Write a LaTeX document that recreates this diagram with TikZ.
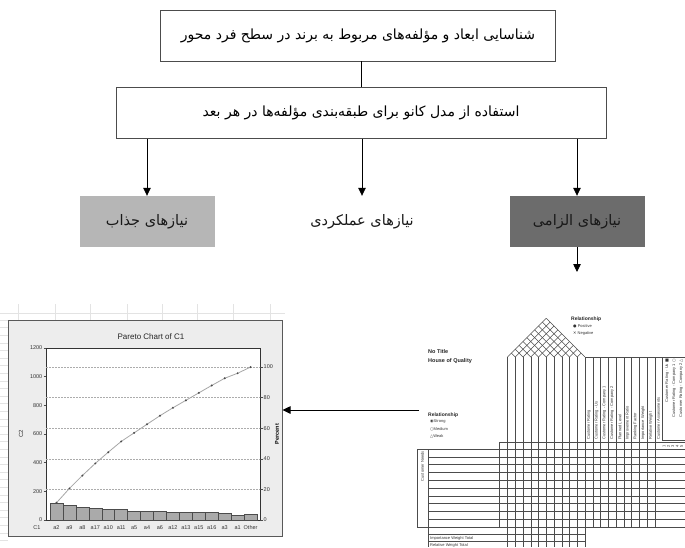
\documentclass[tikz,border=0pt]{standalone}
\usepackage{fontspec}
\setmainfont{Liberation Sans}
\newfontfamily\fa[Script=Arabic]{DejaVu Sans}
\newfontfamily\sym{DejaVu Sans}
\TeXXeTstate=1
\usetikzlibrary{arrows.meta}
\definecolor{lightbox}{HTML}{B6B6B6}
\definecolor{darkbox}{HTML}{6C6C6C}
\definecolor{framefill}{HTML}{EDEDED}
\definecolor{barfill}{HTML}{AAAAAA}
\begin{document}
\begin{tikzpicture}[x=1pt,y=-1pt,
  flowbox/.style={draw=black!70, line width=0.7pt, fill=white, minimum height=51pt, inner sep=0pt},
  need/.style={minimum width=135pt, minimum height=51pt, inner sep=0pt, text=black!90},
  fatext/.style={font=\fa\fontsize{14}{16}\selectfont},
  fabig/.style={font=\fa\fontsize{14.5}{16}\selectfont},
  conn/.style={line width=0.8pt, black},
  arr/.style={line width=0.8pt, black, -{Triangle[length=8pt,width=7.5pt]}},
  tick/.style={font=\fontsize{5.5}{6.5}\selectfont, inner sep=0.5pt, text=black!80},
  hoq/.style={draw=black!70, line width=0.45pt},
  tiny/.style={font=\fontsize{4}{4.5}\selectfont, inner sep=0pt, text=black!80},
  tinyb/.style={font=\bfseries\fontsize{5}{5.5}\selectfont, inner sep=0pt, text=black!85}
]
\useasboundingbox (0,0) rectangle (685,547);

% ---------------- flow chart ----------------
\node[flowbox, minimum width=395pt, fatext] (box1) at (358,35.5)
  {\beginR شناسایی ابعاد و مؤلفه‌های مربوط به برند در سطح فرد محور\endR};
\node[flowbox, minimum width=490pt, fatext] (box2) at (361,113)
  {\beginR استفاده از مدل کانو برای طبقه‌بندی مؤلفه‌ها در هر بعد\endR};
\node[need, fill=lightbox, fabig] (n1) at (147,221.5) {\beginR نیازهای جذاب\endR};
\node[need, fabig] (n2) at (362,221.5) {\beginR نیازهای عملکردی\endR};
\node[need, fill=darkbox, fabig] (n3) at (577,221.5) {\beginR نیازهای الزامی\endR};
\coordinate (n3end) at (577,272);

\draw[conn] (box1.south -| box2.north) -- (box2.north);
\draw[arr] (box2.south -| n1.north) -- (n1.north);
\draw[arr] (box2.south -| n2.north) -- (n2.north);
\draw[arr] (box2.south -| n3.north) -- (n3.north);
\draw[arr] (n3.south) -- (n3end);

% ---------------- Pareto chart ----------------
% spreadsheet grid behind
\foreach \gx in {18,55,90,127,162,197,233,270}
  \draw[gray!22, line width=0.4pt] (\gx,304) -- (\gx,322);
\draw[gray!22, line width=0.4pt] (0,313) -- (285,313);
\foreach \gy in {320,327.6,...,545}
  \draw[gray!22, line width=0.4pt] (0,\gy) -- (8,\gy);

\node[draw=black!65, line width=1pt, fill=framefill, minimum width=274pt, minimum height=216pt, inner sep=0pt] (chart) at (145,428) {};
\node[draw=black!80, line width=0.5pt, fill=white, minimum width=214pt, minimum height=172pt, inner sep=0pt] (plot) at (153,434) {};
\node[font=\fontsize{8}{9}\selectfont, text=black!85] (title) at (151,337) {Pareto Chart of C1};

\foreach \p in {20,40,60,80,100}
  \draw[gray!65, line width=0.4pt, dash pattern=on 1.5pt off 1.5pt] (46,{520-\p*1.5294}) -- (260,{520-\p*1.5294});

\foreach \v in {0,200,400,600,800,1000,1200} {
  \draw[black!70, line width=0.4pt] (43.5,{520-\v*0.14333}) -- (46,{520-\v*0.14333});
  \node[tick, anchor=east] (yl\v) at (43,{520-\v*0.14333}) {\v};
}
\foreach \p in {0,20,40,60,80,100} {
  \draw[black!70, line width=0.4pt] (260,{520-\p*1.5294}) -- (262.5,{520-\p*1.5294});
  \node[tick, anchor=west] (yr\p) at (263,{520-\p*1.5294}) {\p};
}
\node[tick, rotate=90, font=\fontsize{6}{7}\selectfont] (c2) at (21,434) {C2};
\node[tick, rotate=90, font=\bfseries\fontsize{5.5}{6}\selectfont, text=black] (pct) at (277,434) {Percent};

\foreach \v [count=\i] in {120,100,90,85,78,75,60,60,60,55,52,52,52,50,35,43}
  \draw[fill=barfill, draw=black!70, line width=0.5pt] ({50+12.94*(\i-1)},520) rectangle ({50+12.94*\i},{520-\v*0.14333});

\foreach \c [count=\i] in {120,220,310,395,473,548,608,668,728,783,835,887,939,989,1024,1067}
  \coordinate (p\i) at ({50+12.94*(\i-0.5)},{520-\c*0.14333});
\draw[gray!70, line width=0.8pt] (p1) \foreach \i in {2,...,16} { -- (p\i) };
\foreach \i in {1,...,16}
  \fill[black!70] (p\i) circle (1.1pt);

\node[tick] (cl) at (37,528) {C1};
\foreach \lab [count=\i] in {a2,a9,a8,a17,a10,a11,a5,a4,a6,a12,a13,a15,a16,a3,a1,Other}
  \node[tick] (xl\i) at ({50+12.94*(\i-0.5)},528) {\lab};

% ---------------- House of Quality ----------------
\node[tinyb, anchor=west, align=left, font=\bfseries\fontsize{5.5}{8.5}\selectfont] (hqt) at (428,356.5) {No Title\\House of Quality};

\node[tinyb, anchor=west] (rel1) at (571,319) {Relationship};
\node[tiny, anchor=west] (pos) at (573,326) {{\sym ●} Positive};
\node[tiny, anchor=west] (neg) at (573,333) {{\sym ✕} Negative};

\node[tinyb, anchor=west] (rel2) at (428,415) {Relationship};
\node[tiny, anchor=west] (st) at (430,422) {{\sym ◉}Strong};
\node[tiny, anchor=west] (me) at (430,429) {{\sym ○}Medium};
\node[tiny, anchor=west] (wk) at (430,436) {{\sym △}Weak};

% roof and columns
\foreach \i in {0,...,10} {
  \pgfmathsetmacro\xi{507.5+7.75*\i}
  \pgfmathsetmacro\rr{(10-\i)*7.75/2}
  \pgfmathsetmacro\ll{\i*7.75/2}
  \draw[hoq] (\xi,357) -- ++(\rr,-\rr);
  \draw[hoq] (\xi,357) -- ++(-\ll,-\ll);
  \draw[hoq] (\xi,357) -- (\xi,547);
}
% right group
\draw[hoq] (585,357) -- (685,357);
\foreach \j in {0,...,9}
  \draw[hoq] ({585+7.75*\j},357) -- ({585+7.75*\j},527);
\draw[hoq] (662,357) -- (662,440) -- (685,440);
\foreach \t [count=\j] in {Customer Rating,Customer Rating - Us,Customer Rating - Company 1,Customer Rating - Company 2,Planned Level,Improvement Ratio,Ranking Factor,Importance Weight,Relative Weight}
  \node[tiny, rotate=90, anchor=west] (ch\j) at ({585+7.75*(\j-0.5)},440) {\t};
\node[tiny, rotate=90, anchor=west] (ca) at (658.5,440) {Customer Assessments};
\node[tiny, rotate=90, anchor=east] (lg1) at (667,359) {Customer Rating - Us {\sym ■}};
\node[tiny, rotate=90, anchor=east] (lg2) at (674,359) {Customer Rating - Company 1 {\sym ○}};
\node[tiny, rotate=90, anchor=east] (lg3) at (681,359) {Customer Rating - Company 2 {\sym △}};
\foreach \d [count=\k] in {1,2,3,4,5}
  \node[tiny, rotate=90] (sc\k) at ({664+4.4*(\k-1)},446) {\d};

% body
\draw[hoq] (499,442) -- (685,442);
\draw[hoq] (417,449) -- (685,449);
\draw[hoq] (417,527) -- (685,527);
\draw[hoq] (417,449) -- (417,527);
\draw[hoq] (428,449) -- (428,547);
\draw[hoq] (499,442) -- (499,527);
\foreach \k in {1,...,9}
  \draw[hoq] (428,{449+7.8*\k}) -- (685,{449+7.8*\k});
\draw[hoq] (428,534.5) -- (585,534.5);
\draw[hoq] (428,541.5) -- (585,541.5);
\node[tiny, rotate=90, anchor=east] (cn) at (422.5,451) {Customer Needs};
\node[tiny, anchor=west] (iwt) at (430,538) {Importance Weight Total};
\node[tiny, anchor=west] (rwt) at (430,545) {Relative Weight Total};

% arrow from HoQ to chart
\coordinate (hoqarr) at (419,410);
\draw[arr] (hoqarr) -- (hoqarr -| chart.east);
\end{tikzpicture}
\end{document}
